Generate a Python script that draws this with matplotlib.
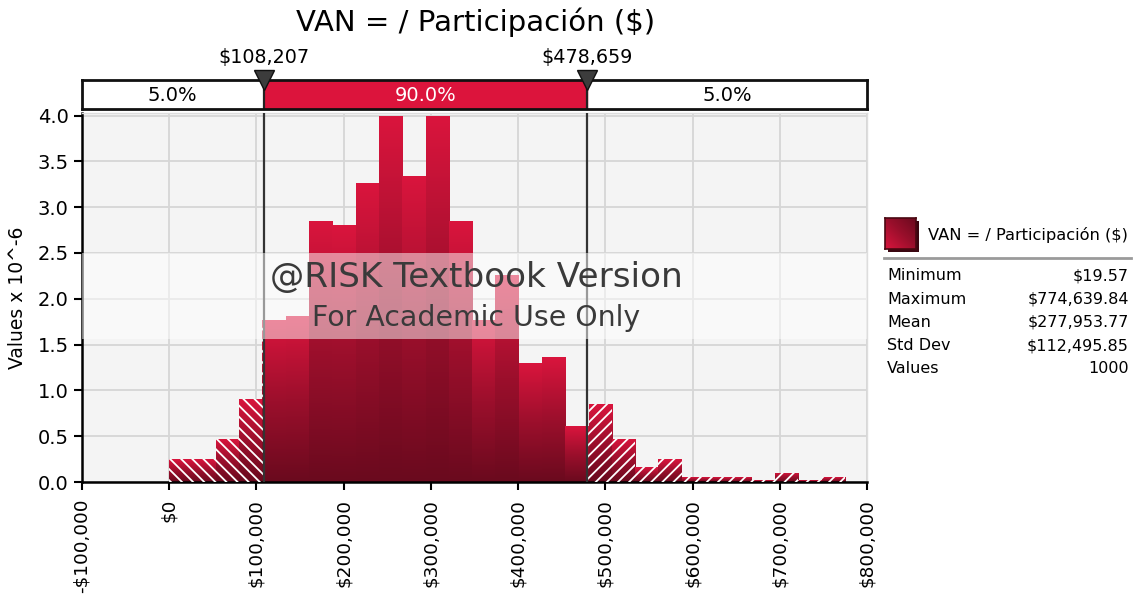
import numpy as np
import matplotlib
matplotlib.use("Agg")
import matplotlib.pyplot as plt
from matplotlib.colors import LinearSegmentedColormap
from matplotlib.patches import Rectangle

# datos
title = "VAN = / Participación ($)"
x_min = 19.57
x_max = 774639.84
p_low = 108207
p_high = 478659
densities = [0.25, 0.25, 0.47, 0.91, 1.77, 1.81, 2.85, 2.80, 3.26, 3.99,
             3.34, 3.99, 2.85, 1.77, 2.26, 1.30, 1.36, 0.61, 0.85, 0.47,
             0.16, 0.25, 0.05, 0.05, 0.05, 0.02, 0.10, 0.02, 0.05]
pct_labels = ["5.0%", "90.0%", "5.0%"]
stat_names = ["Minimum", "Maximum", "Mean", "Std Dev", "Values"]
stat_values = ["$19.57", "$774,639.84", "$277,953.77", "$112,495.85", "1000"]
x_ticks = list(range(-100000, 800001, 100000))
y_ticks = [0.0, 0.5, 1.0, 1.5, 2.0, 2.5, 3.0, 3.5, 4.0]

crimson = "#DC143C"
cmap = LinearSegmentedColormap.from_list("rojo", ["#6A0A1E", "#9C0F2C", "#DA153D"])
plt.rcParams["hatch.linewidth"] = 1.3

W, H = 1137, 598
fig = plt.figure(figsize=(W / 100, H / 100), dpi=100)


def fx(px):
    return px / W


def fy(py):
    return 1 - py / H


ax = fig.add_axes([fx(82), fy(482), fx(867 - 82), (482 - 113) / H])
ax.set_facecolor("#F4F4F4")
ax.set_xlim(-100000, 800000)
ylim_top = 4.0 * (482 - 113) / (482 - 115.5)
ax.set_ylim(0, ylim_top)
ax.grid(True, color="#D6D6D6", linewidth=1.3, zorder=0)
ax.set_axisbelow(True)

# segmentos de barras separados en los percentiles
edges = np.linspace(x_min, x_max, len(densities) + 1)
segs = []  # (left, width, height, tipo)
for i, d in enumerate(densities):
    l, r = edges[i], edges[i + 1]
    if l < p_low:
        segs.append((l, min(r, p_low) - l, d, "left"))
    a, b = max(l, p_low), min(r, p_high)
    if b > a:
        segs.append((a, b - a, d, "mid"))
    if r > p_high:
        a = max(l, p_high)
        segs.append((a, r - a, d, "right"))

grad = np.linspace(0, 1, 256).reshape(-1, 1)
for left, width, h, kind in segs:
    bars = ax.bar(left, h, width, align="edge", facecolor="none",
                  edgecolor="none", linewidth=0, zorder=2)
    patch = bars[0]
    im = ax.imshow(grad, cmap=cmap, extent=(left, left + width, 0, h),
                   origin="lower", aspect="auto", zorder=2, interpolation="bilinear")
    im.set_clip_path(patch)
    if kind != "mid":
        ax.bar(left, h, width, align="edge", facecolor="none", edgecolor="white",
               linewidth=0, hatch="\\\\\\" if kind == "left" else "///", zorder=3)

ax.set_xlim(-100000, 800000)
ax.set_ylim(0, ylim_top)

for p in (p_low, p_high):
    ax.axvline(p, color="#333333", linewidth=1.6, zorder=4)

# marca de agua
ax.add_patch(Rectangle((0, 1.559 / ylim_top), 1, (2.496 - 1.559) / ylim_top,
                       transform=ax.transAxes, facecolor="white", alpha=0.5,
                       edgecolor="none", zorder=5))
ax.text(0.502, 2.23 / ylim_top, "@RISK Textbook Version", transform=ax.transAxes,
        ha="center", va="center", fontsize=24.7, color="#3A3A3A", zorder=6)
ax.text(0.502, 1.787 / ylim_top, "For Academic Use Only", transform=ax.transAxes,
        ha="center", va="center", fontsize=20.4, color="#3A3A3A", zorder=6)

for s in ("left", "bottom"):
    ax.spines[s].set_color("black")
    ax.spines[s].set_linewidth(1.8)
for s in ("top", "right"):
    ax.spines[s].set_color("#DDDDDD")
    ax.spines[s].set_linewidth(1)


def money(v):
    if v == 0:
        return "$0"
    return ("-" if v < 0 else "") + "${:,.0f}".format(abs(v))


ax.set_xticks(x_ticks)
ax.set_xticklabels([money(v) for v in x_ticks], rotation=90, fontsize=13.3)
ax.set_yticks(y_ticks)
ax.set_yticklabels(["%.1f" % v for v in y_ticks], fontsize=14)
ax.tick_params(axis="both", direction="out", length=6, width=1.5, color="black")
ax.tick_params(axis="x", pad=6)
ax.set_ylabel("Values x 10^-6", fontsize=13.5, labelpad=8)

# barra de percentiles
bx = fig.add_axes([fx(82), fy(109), fx(867 - 82), 29 / H])
bx.set_xlim(-100000, 800000)
bx.set_ylim(0, 1)
bx.axvspan(p_low, p_high, color=crimson, zorder=1)
bx.axvline(p_low, color="#222222", linewidth=1.6)
bx.axvline(p_high, color="#222222", linewidth=1.6)
bx.set_xticks([])
bx.set_yticks([])
for s in bx.spines.values():
    s.set_linewidth(2)
    s.set_color("#111111")
centers = [(-100000 + p_low) / 2, (p_low + p_high) / 2, (p_high + 800000) / 2]
colors = ["black", "white", "black"]
for c, t, col in zip(centers, pct_labels, colors):
    bx.text(c, 0.47, t, ha="center", va="center", fontsize=14, color=col)
for p in (p_low, p_high):
    bx.plot([p], [1.0], marker="v", markersize=14, color="#3C3C3C",
            markeredgecolor="#111111", clip_on=False, zorder=5)
    bx.text(p, 1.76, money(p), ha="center", va="center", fontsize=13.8)

fig.text(fx(476), fy(22), title, ha="center", va="center", fontsize=21)

# leyenda
sax = fig.add_axes([fx(888), fy(252), fx(31), 31 / H])
sax.add_patch(Rectangle((0, 0), 1, 1, transform=sax.transAxes, color="#3A0610"))
sax.axis("off")
lax = fig.add_axes([fx(885), fy(249), fx(31), 31 / H])
xx, yy = np.meshgrid(np.linspace(0, 1, 64), np.linspace(0, 1, 64))
lax.imshow((xx * 0.5 + (1 - yy) * 0.5), cmap=cmap.reversed(), aspect="auto",
           extent=(0, 1, 0, 1), origin="upper")
lax.set_xticks([])
lax.set_yticks([])
for s in lax.spines.values():
    s.set_color("#4A0812")
    s.set_linewidth(1.2)

fig.text(fx(928), fy(235), title, ha="left", va="center", fontsize=11.7)
fig.add_artist(plt.Line2D([fx(884), fx(1131)], [fy(258), fy(258)],
                          color="#9A9A9A", linewidth=2))
for i, (n, v) in enumerate(zip(stat_names, stat_values)):
    y = fy(276 + i * 23.2)
    fig.text(fx(887), y, n, ha="left", va="center", fontsize=11.5)
    fig.text(fx(1129), y, v, ha="right", va="center", fontsize=11.5)

fig.savefig("out.png", dpi=100)
